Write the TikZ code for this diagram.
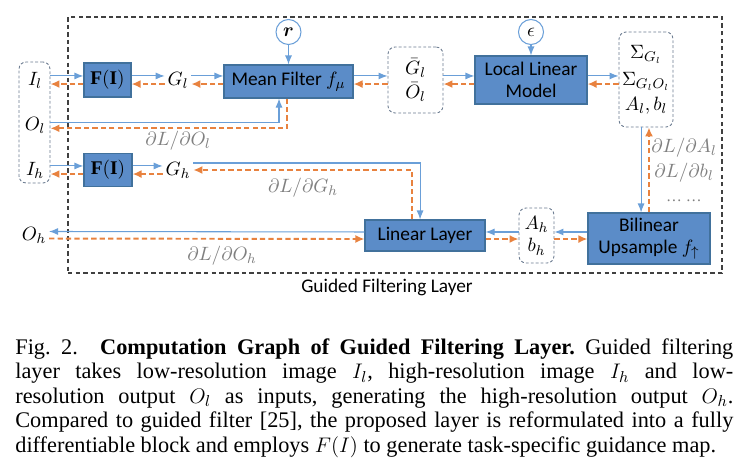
\documentclass[tikz,border=0pt]{standalone}
\usepackage{fontspec}
\setmainfont{Liberation Serif}
\setsansfont{Carlito}
\usepackage{amsmath}
\usepackage{tikz}
\usetikzlibrary{arrows.meta, positioning, calc}
\definecolor{boxfill}{HTML}{5B8CC8}
\definecolor{boxedge}{HTML}{41719C}
\definecolor{fwdblue}{HTML}{6A9FD8}
\definecolor{bwdorange}{HTML}{E8823F}
\definecolor{dashedge}{HTML}{6B7B90}
\definecolor{gradtext}{HTML}{808080}

\begin{document}
\begin{tikzpicture}[
    op/.style={rectangle, draw=boxedge, fill=boxfill, line width=0.6pt, text=black,
               font=\fontsize{11}{12.5}\selectfont\sffamily, align=center, inner sep=0pt},
    var/.style={rectangle, rounded corners=4pt, draw=dashedge, fill=white, line width=0.5pt,
                dash pattern=on 1.6pt off 1.2pt, inner sep=0pt},
    sym/.style={font=\fontsize{11}{13}\selectfont, inner sep=1.5pt},
    hyper/.style={circle, draw=fwdblue, fill=white, line width=0.6pt, minimum size=0.5cm,
                  inner sep=0pt, font=\fontsize{11}{13}\selectfont},
    grad/.style={text=gradtext, font=\fontsize{11}{13}\selectfont, inner sep=0pt},
    fwd/.style={-{Latex[length=1.8mm, width=1.4mm]}, line width=0.6pt, color=fwdblue},
    bwd/.style={-{Latex[length=1.8mm, width=1.6mm]}, line width=1.1pt, color=bwdorange,
                dash pattern=on 3pt off 1.8pt}
  ]
    \useasboundingbox (0,0) rectangle (14.92,9.34);

    \node[rectangle, draw=black!75, line width=0.6pt, dash pattern=on 2.5pt off 1.8pt,
          minimum width=13.08cm, minimum height=5.12cm] (layer) at (7.90, 6.44) {};
    \node[font=\fontsize{11}{13}\selectfont\sffamily] (layername) at (7.74, 3.60) {Guided Filtering Layer};

    \node[var, minimum width=0.62cm, minimum height=2.42cm] (inbox) at (0.69, 6.89) {};
    \node[sym] (Il) at (0.70, 7.74) {$I_l$};
    \node[sym] (Ol) at (0.70, 6.83) {$O_l$};
    \node[sym] (Ih) at (0.70, 5.94) {$I_h$};
    \node[sym] (Oh) at (0.68, 4.64) {$O_h$};

    \node[op, minimum width=0.94cm, minimum height=0.68cm, font=\fontsize{11}{13}\selectfont] (fi1) at (2.15, 7.74) {$\mathbf{F(I)}$};
    \node[op, minimum width=0.96cm, minimum height=0.66cm, font=\fontsize{11}{13}\selectfont] (fi2) at (2.16, 5.94) {$\mathbf{F(I)}$};
    \node[sym] (Gl) at (3.56, 7.74) {$G_l$};
    \node[sym] (Gh) at (3.56, 5.94) {$G_h$};

    \node[op, minimum width=2.58cm, minimum height=0.66cm] (mean) at (5.77, 7.71) {Mean Filter $f_\mu$};
    \node[hyper] (r) at (5.77, 8.70) {$\boldsymbol{r}$};
    \node[var, minimum width=1.10cm, minimum height=1.32cm] (bar) at (8.31, 7.74) {};
    \node[sym, inner sep=0pt] (Gbar) at (8.31, 7.97) {$\bar{G}_l$};
    \node[sym, inner sep=0pt] (Obar) at (8.31, 7.50) {$\bar{O}_l$};
    \node[op, minimum width=2.24cm, minimum height=0.96cm] (llm) at (10.62, 7.74) {Local Linear\\Model};
    \node[hyper] (eps) at (10.62, 8.70) {$\epsilon$};
    \node[var, minimum width=1.08cm, minimum height=1.90cm, align=center, font=\fontsize{11}{13}\selectfont] (sigma) at (12.92, 7.75) {$\Sigma_{G_l}$\\[2.5pt]$\Sigma_{G_lO_l}$\\[1pt]$A_l, b_l$};

    \node[op, minimum width=2.44cm, minimum height=1.02cm] (bil) at (12.98, 4.57) {Bilinear\\Upsample $f_\uparrow$};
    \node[var, minimum width=0.70cm, minimum height=1.10cm, align=center, font=\fontsize{11}{13}\selectfont] (ah) at (10.73, 4.63) {$A_h$\\$b_h$};
    \node[op, minimum width=2.40cm, minimum height=0.62cm] (linear) at (8.50, 4.63) {Linear Layer};

    \draw[fwd] ([yshift=2.3pt]inbox.east |- fi1.west) -- ([yshift=2.3pt]fi1.west);
    \draw[bwd] ([yshift=-2.3pt]fi1.west) -- ([yshift=-2.3pt]inbox.east |- fi1.west);
    \draw[fwd] ([yshift=2.3pt]fi1.east) -- ([yshift=2.3pt]Gl.west);
    \draw[bwd] ([yshift=-2.3pt]Gl.west) -- ([yshift=-2.3pt]fi1.east);
    \draw[fwd] ([yshift=2.3pt]Gl.east) -- ([yshift=2.3pt]Gl.east -| mean.west);
    \draw[bwd] ([yshift=-2.3pt]Gl.east -| mean.west) -- ([yshift=-2.3pt]Gl.east);
    \draw[fwd] ([yshift=2.3pt]mean.east |- bar.west) -- ([yshift=2.3pt]bar.west);
    \draw[bwd] ([yshift=-2.3pt]bar.west) -- ([yshift=-2.3pt]mean.east |- bar.west);
    \draw[fwd] ([yshift=2.3pt]bar.east) -- ([yshift=2.3pt]llm.west);
    \draw[bwd] ([yshift=-2.3pt]llm.west) -- ([yshift=-2.3pt]bar.east);
    \draw[fwd] ([yshift=2.3pt]llm.east) -- ([yshift=2.3pt]llm.east -| sigma.west);
    \draw[bwd] ([yshift=-2.3pt]llm.east -| sigma.west) -- ([yshift=-2.3pt]llm.east);

    \draw[fwd] (r.south) -- (r.south |- mean.north);
    \draw[fwd] (eps.south) -- (eps.south |- llm.north);

    \draw[fwd] ([yshift=1.6pt]inbox.east |- Ol.east) -| ([xshift=-5.4pt]mean.south);
    \draw[bwd] ([xshift=-0.8pt]mean.south) |- ([yshift=-1.6pt]inbox.east |- Ol.east);
    \node[grad] (dOl) at (3.56, 6.52) {$\partial L/\partial O_l$};

    \draw[fwd] ([yshift=2.3pt]inbox.east |- fi2.west) -- ([yshift=2.3pt]fi2.west);
    \draw[bwd] ([yshift=-2.3pt]fi2.west) -- ([yshift=-2.3pt]inbox.east |- fi2.west);
    \draw[fwd] ([yshift=2.3pt]fi2.east) -- ([yshift=2.3pt]Gh.west);
    \draw[bwd] ([yshift=-2.3pt]Gh.west) -- ([yshift=-2.3pt]fi2.east);

    \draw[fwd] ([yshift=4pt]Gh.east) -| ([xshift=-2.8pt]linear.north);
    \draw[bwd] ([xshift=-7.4pt]linear.north) |- (Gh.east);
    \node[grad] (dGh) at (6.06, 5.58) {$\partial L/\partial G_h$};

    \draw[fwd] ([yshift=2pt]linear.west) -- ([yshift=2pt]Oh.east);
    \draw[bwd] ([yshift=-2pt]Oh.east) -- ([yshift=-2pt]linear.west);
    \node[grad] (dOh) at (4.44, 4.22) {$\partial L/\partial O_h$};

    \draw[fwd] ([yshift=2pt]ah.west) -- ([yshift=2pt]linear.east);
    \draw[bwd] ([yshift=-2pt]linear.east) -- ([yshift=-2pt]ah.west);
    \draw[fwd] ([yshift=2pt]bil.west |- ah.east) -- ([yshift=2pt]ah.east);
    \draw[bwd] ([yshift=-2pt]ah.east) -- ([yshift=-2pt]bil.west |- ah.east);

    \draw[fwd] ([xshift=-2.8pt]sigma.south) -- ([xshift=-2.8pt]sigma.south |- bil.north);
    \draw[bwd] ([xshift=1.7pt]sigma.south |- bil.north) -- ([xshift=1.7pt]sigma.south);
    \node[grad, align=center] (dAl) at (13.68, 5.94) {$\partial L/\partial A_l$\\[1pt]$\partial L/\partial b_l$\\[1pt]\textrm{\fontsize{9}{11}\selectfont\dots\ \dots}};

    \node[anchor=base west, text width=14.36cm, align=justify, inner sep=0pt,
          font=\fontsize{12.7}{14}\selectfont\frenchspacing] (caption) at (0.30, 2.26)
      {Fig.~2.\quad\textbf{Computation Graph of Guided Filtering Layer.} Guided filtering\linebreak
       layer takes low-resolution image $I_l$, high-resolution image $I_h$ and low-\linebreak
       resolution output $O_l$ as inputs, generating the high-resolution output $O_h$.\linebreak
       Compared to guided filter [25], the proposed layer is reformulated into a fully\linebreak
       differentiable block and employs $F(I)$ to generate task-specific guidance map.};
  \end{tikzpicture}
\end{document}
